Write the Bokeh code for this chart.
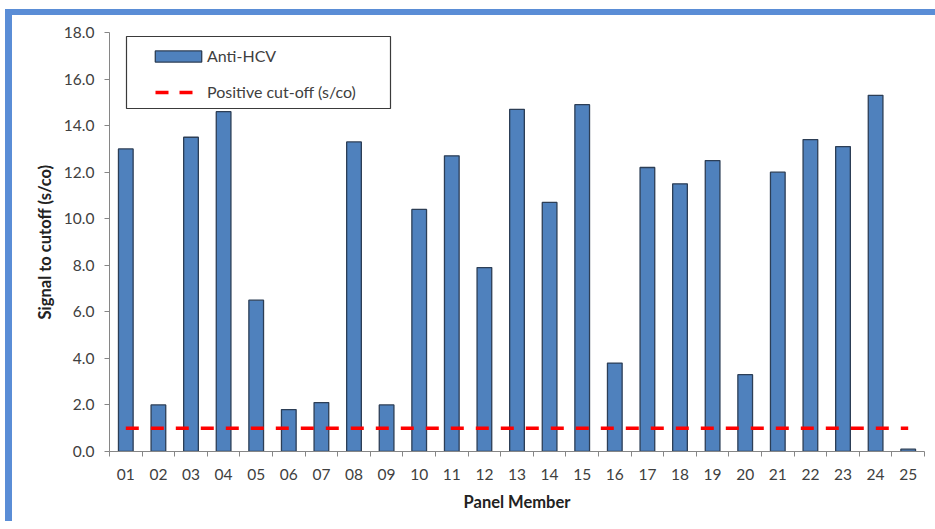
from bokeh.plotting import figure
from bokeh.models import (Range1d, LinearAxis, FixedTicker, PrintfTickFormatter,
                          Legend, LegendItem, BoxAnnotation, ColumnDataSource)
from bokeh.embed import file_html
from bokeh.resources import INLINE

# ---- data ----
members = ["01", "02", "03", "04", "05", "06", "07", "08", "09", "10", "11", "12", "13",
           "14", "15", "16", "17", "18", "19", "20", "21", "22", "23", "24", "25"]
signal = [13.0, 2.0, 13.5, 14.6, 6.5, 1.8, 2.1, 13.3, 2.0, 10.4, 12.7, 7.9, 14.7,
          10.7, 14.9, 3.8, 12.2, 11.5, 12.5, 3.3, 12.0, 13.4, 13.1, 15.3, 0.1]
cutoff = [1.0, 1.0, 1.0, 1.0, 1.0, 1.0, 1.0, 1.0, 1.0, 1.0, 1.0, 1.0, 1.0,
          1.0, 1.0, 1.0, 1.0, 1.0, 1.0, 1.0, 1.0, 1.0, 1.0, 1.0, 1.0]
y_ticks = [0, 2, 4, 6, 8, 10, 12, 14, 16, 18]
bar_label = "Anti-HCV"
line_label = "Positive cut-off (s/co)"

FONT = "Lato"
AXIS_GRAY = "#868686"
TEXT = "#404040"

# category slot positions (one unit per panel member)
n = len(members)
centers = [i + 0.5 for i in range(n)]
boundaries = list(range(n + 1))
src = ColumnDataSource(data=dict(x=centers, member=members, signal=signal, cutoff=cutoff))

p = figure(x_range=Range1d(0, n), y_range=Range1d(y_ticks[0], y_ticks[-1]),
           frame_width=815, frame_height=419,
           min_border_left=97, min_border_right=11, min_border_top=17, min_border_bottom=70,
           x_axis_location=None, y_axis_location="left",
           output_backend="svg", toolbar_location=None)
p.margin = (9, 0, 0, 5)
p.styles = {"border-top": "6px solid #5A8DD6", "border-left": "7px solid #5A8DD6"}
p.outline_line_color = None
p.grid.grid_line_color = None
p.background_fill_color = "white"
p.border_fill_color = "white"

# y axis
ya = p.yaxis[0]
ya.ticker = FixedTicker(ticks=y_ticks)
ya.formatter = PrintfTickFormatter(format="%.1f")
ya.major_tick_in = 0
ya.major_tick_out = 5
ya.minor_tick_line_color = None
ya.axis_line_color = AXIS_GRAY
ya.major_tick_line_color = AXIS_GRAY
ya.major_label_text_font = FONT
ya.major_label_text_font_size = "15.5px"
ya.major_label_text_color = TEXT
ya.major_label_standoff = 10
ya.axis_label = "Signal to cutoff (s/co)"
ya.axis_label_text_font = FONT
ya.axis_label_text_font_size = "16.5px"
ya.axis_label_text_font_style = "bold"
ya.axis_label_text_color = "#222222"
ya.axis_label_standoff = 6

# x axis: tick marks on category boundaries
tick_axis = LinearAxis(ticker=FixedTicker(ticks=boundaries),
                       major_label_text_font_size="0px", major_label_standoff=0,
                       major_tick_in=0, major_tick_out=5, minor_tick_line_color=None,
                       axis_line_color=AXIS_GRAY, major_tick_line_color=AXIS_GRAY)
tick_axis.major_label_overrides = {b: "" for b in boundaries}
p.add_layout(tick_axis, "below")

# x axis: member labels at category centres
lab_axis = LinearAxis(ticker=FixedTicker(ticks=centers),
                      axis_line_color=None, major_tick_line_color=None,
                      major_tick_in=0, major_tick_out=0, minor_tick_line_color=None,
                      major_label_standoff=12,
                      major_label_text_font=FONT, major_label_text_font_size="15.5px",
                      major_label_text_color=TEXT,
                      axis_label="Panel Member", axis_label_text_font=FONT,
                      axis_label_text_font_size="16.5px", axis_label_text_font_style="bold",
                      axis_label_text_color="#222222", axis_label_standoff=9)
lab_axis.major_label_overrides = {c: m for c, m in zip(centers, members)}
p.add_layout(lab_axis, "below")

bars = p.vbar(x="x", top="signal", width=0.45, source=src, fill_color="#4F81BD",
              line_color="#2c3e56", line_width=1.3)
cut = p.line(x="x", y="cutoff", source=src, line_color="#FF0000", line_width=3.5,
             line_dash="13 12")
# legend swatch for the cut-off line (two dashes, as in the original legend)
cut_key = p.line(x="x", y="cutoff", source=src, line_color="#FF0000", line_width=3.5,
                 line_dash="0 6 13 11 13 30", visible=False)

box = BoxAnnotation(left=17, right=281, top=415, bottom=343,
                    left_units="screen", right_units="screen",
                    top_units="screen", bottom_units="screen",
                    fill_alpha=0, line_color="#3a3a3a", line_width=1.2, line_alpha=1)
p.add_layout(box)

legend = Legend(items=[LegendItem(label=bar_label, renderers=[bars]),
                       LegendItem(label=line_label, renderers=[cut_key])],
                location=(40, 350), margin=0, padding=0, spacing=17,
                glyph_width=58, glyph_height=14, label_height=14, label_standoff=0,
                label_text_font=FONT, label_text_font_size="16px", label_text_color=TEXT,
                border_line_color=None, background_fill_alpha=0,
                inactive_fill_alpha=0)
p.add_layout(legend)

open("out.html", "w").write(file_html(p, INLINE))
